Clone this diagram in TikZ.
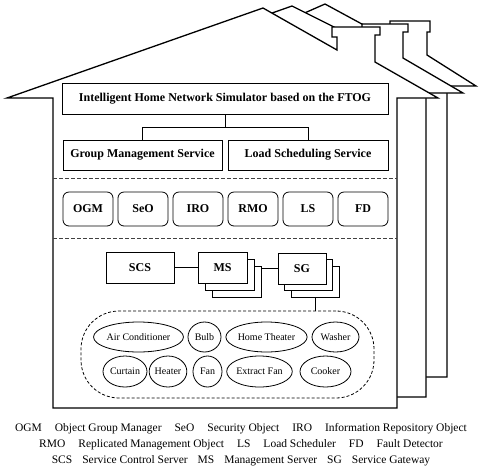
\documentclass[tikz,border=0pt]{standalone}
\usepackage{fontspec}
\setmainfont{Liberation Serif}
\usetikzlibrary{shapes.geometric}
\pgfdeclarelayer{houses}
\pgfdeclarelayer{links}
\pgfsetlayers{houses,links,main}
\begin{document}
\begin{tikzpicture}[x=1pt,y=-1pt,
  house/.style={draw=black, fill=white, line width=1.3pt, line join=miter},
  sqbox/.style={draw, line width=0.8pt, fill=white, inner sep=0pt, font=\bfseries\fontsize{12}{14}\selectfont},
  rbox/.style={sqbox, rounded corners=6pt, minimum width=50pt, minimum height=34pt},
  msbox/.style={sqbox, minimum width=49pt, minimum height=31pt},
  sgbox/.style={sqbox, minimum width=48pt, minimum height=31pt},
  dev/.style={ellipse, draw, line width=0.8pt, fill=white, inner sep=0pt, font=\fontsize{10}{12}\selectfont},
  sep/.style={dashed, line width=0.6pt, draw=black!75, dash pattern=on 4pt off 2pt},
  conn/.style={draw, line width=0.8pt},
  legend/.style={anchor=base, inner sep=0pt, font=\fontsize{11.5}{13}\selectfont}
]
\useasboundingbox (0,0) rectangle (479,467);

\begin{pgfonlayer}{houses}
% back house
\draw[house] (200,377) -- (200,59) -- (325,4) -- (395,42) -- (395,31) -- (390,31) -- (390,21)
  -- (430,21) -- (430,32) -- (427,32) -- (427,55) -- (476,86) -- (447,86) -- (447,377) -- cycle;
% middle house
\draw[house] (150,397) -- (150,56) -- (292,6) -- (367,43.5) -- (367,34) -- (362,34) -- (362,24)
  -- (408,24) -- (408,32) -- (403,32) -- (403,58) -- (463,93) -- (426,93) -- (426,397) -- cycle;
% front house
\draw[house] (53,408) -- (53,98) -- (7,98) -- (263,8) -- (337,50) -- (337,37) -- (332,37) -- (332,27)
  -- (380,27) -- (380,35) -- (375,35) -- (375,62) -- (438,98) -- (397,98) -- (397,408) -- cycle;
\end{pgfonlayer}

% top level
\node[sqbox, minimum width=326pt, minimum height=31pt] (title) at (225,98.5)
  {Intelligent Home Network Simulator based on the FTOG};
\node[sqbox, minimum width=159pt, minimum height=30pt] (gms) at (142.5,155) {Group Management Service};
\node[sqbox, minimum width=160pt, minimum height=30pt] (lss) at (308,155) {Load Scheduling Service};

% separators
\draw[sep] (53,178) -- (397,178);
\draw[sep] (53,238) -- (397,238);

% objects
\node[rbox] (ogm) at (88,209) {OGM};
\node[rbox] (seo) at (143,209) {SeO};
\node[rbox] (iro) at (198,209) {IRO};
\node[rbox] (rmo) at (253,209) {RMO};
\node[rbox] (ls)  at (308,209) {LS};
\node[rbox] (fd)  at (363,209) {FD};

% servers
\node[sqbox, minimum width=68pt, minimum height=31pt] (scs) at (140,267.5) {SCS};
\node[msbox] (ms3) at (236.5,281.5) {};
\node[msbox] (ms2) at (229.5,274.5) {};
\node[msbox] (ms1) at (222.5,267.5) {MS};
\node[sgbox] (sg3) at (315,282) {};
\node[sgbox] (sg2) at (308.5,275) {};
\node[sgbox] (sg1) at (302,268.5) {SG};

% devices container
\node[draw, dashed, line width=0.8pt, dash pattern=on 3pt off 2pt, rounded corners=38pt,
  minimum width=293pt, minimum height=87pt, inner sep=0pt] (devs) at (227.5,354.5) {};

\node[dev, minimum width=87pt, minimum height=30pt] (ac) at (138.5,337) {Air Conditioner};
\node[dev, minimum width=33pt, minimum height=30pt] (bulb) at (204.5,337) {Bulb};
\node[dev, minimum width=77pt, minimum height=30pt] (ht) at (266.5,337) {Home Theater};
\node[dev, minimum width=47pt, minimum height=30pt] (wash) at (335.5,337) {Washer};
\node[dev, minimum width=44pt, minimum height=31pt] (curt) at (125,371.5) {Curtain};
\node[dev, minimum width=32pt, minimum height=31pt] (heat) at (168,371.5) {Heater};
\node[dev, minimum width=29pt, minimum height=31pt] (fan) at (207.5,371.5) {Fan};
\node[dev, minimum width=61pt, minimum height=31pt] (xfan) at (259.5,371.5) {Extract Fan};
\node[dev, minimum width=51pt, minimum height=31pt] (cook) at (325.5,371.5) {Cooker};

% connectors
\begin{pgfonlayer}{links}
\draw[conn] (title.south) -- ++(0,13) -| (gms.north);
\draw[conn] (title.south) ++(0,13) -| (lss.north);
\draw[conn] (scs.east) -- (ms1.west);
\draw[conn] (ms1.east |- sg1.west) -- (sg1.west);
\draw[conn] (sg3.south) -- (sg3.south |- devs.north);
\end{pgfonlayer}

% legend
\node[legend] (leg1) at (241,431) {OGM\hspace{13pt}Object Group Manager\hspace{13pt}SeO\hspace{13pt}Security Object\hspace{13pt}IRO\hspace{13pt}Information Repository Object};
\node[legend] (leg2) at (241,447) {RMO\hspace{13pt}Replicated Management Object\hspace{13pt}LS\hspace{13pt}Load Scheduler\hspace{13pt}FD\hspace{13pt}Fault Detector};
\node[legend] (leg3) at (241,463) {SCS\hspace{10pt}Service Control Server\hspace{10pt}MS\hspace{10pt}Management Server\hspace{10pt}SG\hspace{10pt}Service Gateway};
\end{tikzpicture}
\end{document}
